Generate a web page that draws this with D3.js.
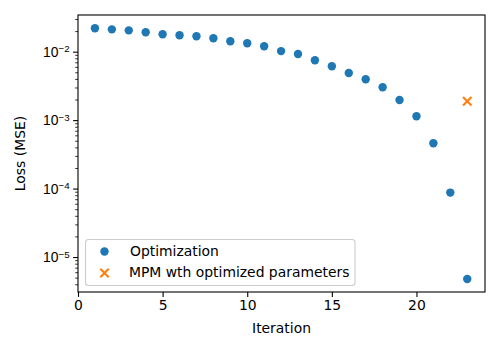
<!DOCTYPE html>
<html><head><meta charset="utf-8">
<script src="https://cdn.jsdelivr.net/npm/d3@7"></script>
<style>body{margin:0;background:#fff}svg{display:block;font-family:"DejaVu Sans",sans-serif}</style>
</head><body>
<script>
const iterations = [1,2,3,4,5,6,7,8,9,10,11,12,13,14,15,16,17,18,19,20,21,22,23];
const optLoss = [0.0220,0.0212,0.0205,0.0192,0.0180,0.0174,0.0168,0.0157,0.0142,0.0133,0.0120,0.0102,0.00925,0.00748,0.00612,0.00489,0.00395,0.00302,0.00197,0.00114,0.000460,0.0000874,0.00000478];
const mpmIter = [23];
const mpmLoss = [0.00189];
const xTicks = [0,5,10,15,20];
const yTicks = [1e-2,1e-3,1e-4,1e-5];
const legendLabels = ["Optimization","MPM wth optimized parameters"];

const W=500,H=350;
const m={l:78,r:15,t:15,b:58};
const svg=d3.select("body").append("svg").attr("width",W).attr("height",H);
const x=d3.scaleLinear().domain([0,24.05]).range([m.l,W-m.r]);
const y=d3.scaleLog().domain([Math.pow(10,-5.511),Math.pow(10,-1.464)]).range([H-m.b,m.t]);

const fs=13.9;
// points
svg.append("g").selectAll("circle").data(iterations).join("circle")
  .attr("cx",(d)=>x(d)).attr("cy",(d,i)=>y(optLoss[i])).attr("r",4.2).attr("fill","#1f77b4");
const xs=4.2;
const mg=svg.append("g");
mpmIter.forEach((d,i)=>{
  const cx=x(d),cy=y(mpmLoss[i]);
  mg.append("path").attr("d",`M${cx-xs},${cy-xs}L${cx+xs},${cy+xs}M${cx-xs},${cy+xs}L${cx+xs},${cy-xs}`)
    .attr("stroke","#ff7f0e").attr("stroke-width",2.1).attr("fill","none");
});

// axes
const xAxis=d3.axisBottom(x).tickValues(xTicks).tickSize(4.9).tickPadding(3.5).tickFormat(d3.format("d"));
const gx=svg.append("g").attr("transform",`translate(0,${H-m.b})`).call(xAxis);
gx.select(".domain").remove();
gx.selectAll("line").attr("stroke","#000").attr("stroke-width",1.1);
gx.selectAll("text").attr("font-size",fs).attr("fill","#000").attr("font-family","DejaVu Sans");

const minor=[];
for(let e=-6;e<=-1;e++){for(let k=2;k<=9;k++){const v=k*Math.pow(10,e);if(v>=y.domain()[0]&&v<=y.domain()[1])minor.push(v);}}
const gym=svg.append("g").attr("transform",`translate(${m.l},0)`).call(d3.axisLeft(y).tickValues(minor).tickSize(2.8).tickFormat(""));
gym.select(".domain").remove();
gym.selectAll("line").attr("stroke","#000").attr("stroke-width",0.8);
const gy=svg.append("g").attr("transform",`translate(${m.l},0)`).call(d3.axisLeft(y).tickValues(yTicks).tickSize(4.9).tickPadding(3.5).tickFormat(""));
gy.select(".domain").remove();
gy.selectAll("line").attr("stroke","#000").attr("stroke-width",1.1);
gy.selectAll(".tick").each(function(d){
  const t=d3.select(this).append("text").attr("x",-8.4).attr("dy","0.32em").attr("text-anchor","end")
    .attr("font-size",fs).attr("fill","#000");
  t.append("tspan").text("10");
  t.append("tspan").attr("dy","-0.45em").attr("font-size",fs*0.7).text("\u2212"+Math.round(-Math.log10(d)));
});

// frame
svg.append("rect").attr("x",m.l).attr("y",m.t).attr("width",W-m.r-m.l).attr("height",H-m.b-m.t)
  .attr("fill","none").attr("stroke","#000").attr("stroke-width",1.1);

// labels
svg.append("text").attr("x",(m.l+W-m.r)/2).attr("y",333).attr("text-anchor","middle").attr("font-size",fs).text("Iteration");
svg.append("text").attr("transform",`translate(25,${(m.t+H-m.b)/2}) rotate(-90)`).attr("text-anchor","middle").attr("font-size",fs).text("Loss (MSE)");

// legend
const lg=svg.append("g");
lg.append("rect").attr("x",85.5).attr("y",239.5).attr("width",269.5).attr("height",46).attr("rx",3)
  .attr("fill","#fff").attr("fill-opacity",0.8).attr("stroke","#cccccc").attr("stroke-width",1.1);
lg.append("circle").attr("cx",104.5).attr("cy",251.5).attr("r",4.2).attr("fill","#1f77b4");
const lx=104.5,ly=273;
lg.append("path").attr("d",`M${lx-xs},${ly-xs}L${lx+xs},${ly+xs}M${lx-xs},${ly+xs}L${lx+xs},${ly-xs}`)
  .attr("stroke","#ff7f0e").attr("stroke-width",2.1);
lg.append("text").attr("x",130).attr("y",251.5).attr("dy","0.35em").attr("font-size",fs).text(legendLabels[0]);
lg.append("text").attr("x",129).attr("y",272.5).attr("dy","0.35em").attr("font-size",fs).text(legendLabels[1]);
</script>
</body></html>
